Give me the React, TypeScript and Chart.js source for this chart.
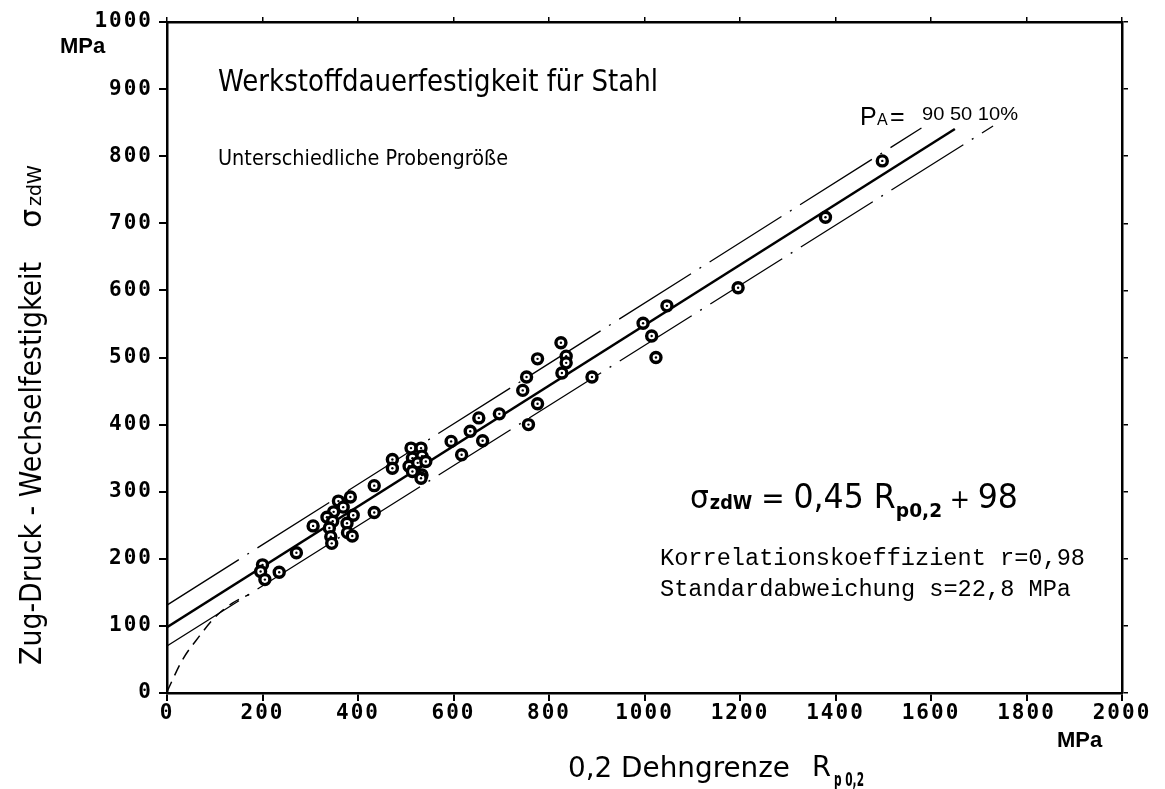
import React, { useEffect, useRef } from "react";
import { Chart, registerables } from "chart.js";

Chart.register(...registerables);

// Measured specimens: 0.2 % proof stress and push-pull fatigue strength (MPa)
const rp02 = [
  200, 196, 205, 235, 271, 306,
  359, 384, 369, 349, 335, 390, 347, 377, 340, 378, 388, 343, 345,
  434, 434, 472, 472,
  511, 532, 514, 534, 507, 525, 542, 514, 534, 532,
  595, 617, 635, 653, 661, 696,
  745, 753, 757, 776, 776,
  825, 836, 836, 827, 890,
  997, 1015, 1024, 1047,
  1196, 1379, 1498,
];
const sigmaZdW = [
  191, 181, 169, 180, 209, 249,
  286, 292, 277, 270, 262, 265, 256, 253, 246, 239, 234, 233, 223,
  309, 269, 348, 335,
  365, 365, 350, 353, 338, 343, 345, 330, 325, 320,
  375, 355, 390, 410, 376, 416,
  451, 471, 400, 498, 431,
  522, 502, 492, 477, 471,
  551, 532, 500, 577,
  604, 709, 793,
];

// Regression line sigma = 0.45 Rp0.2 + 98 (P_A = 50 %)
const medianX = [0, 1650];
const medianY = [98, 0.45 * 1650 + 98];
// Scatter band P_A = 90 %
const upperX = [0, 1580];
const upperY = [131, 842];
// Scatter band P_A = 10 %
const lowerX = [0, 1730];
const lowerY = [70, 845];
// Low-strength transition of the 10 % band towards the origin
const curveX = [0, 32, 67, 102, 137, 172];
const curveY = [2, 49, 84, 114, 134, 147];

const xTicksMax = 2000;
const xTickStep = 200;
const yTicksMax = 1000;
const yTickStep = 100;

const pts = (xs: number[], ys: number[]) => xs.map((x, i) => ({ x, y: ys[i] }));

type Part = { t: string; font: string; dy?: number; before?: number };

function drawRun(ctx: CanvasRenderingContext2D, x: number, y: number, parts: Part[], sx = 1) {
  let cx = x;
  for (const p of parts) {
    cx += p.before ?? 0;
    ctx.font = p.font;
    const w = ctx.measureText(p.t).width * sx;
    ctx.save();
    ctx.translate(cx, y + (p.dy ?? 0));
    ctx.scale(sx, 1);
    ctx.fillText(p.t, 0, 0);
    ctx.restore();
    cx += w;
  }
  return cx;
}

function drawFit(ctx: CanvasRenderingContext2D, t: string, x: number, y: number, font: string, width: number) {
  ctx.font = font;
  const sx = width / ctx.measureText(t).width;
  ctx.save();
  ctx.translate(x, y);
  ctx.scale(sx, 1);
  ctx.fillText(t, 0, 0);
  ctx.restore();
  return x + width;
}

const DIN = '"DejaVu Sans"';

const textPlugin = {
  id: "fatigueTexts",
  beforeDraw(chart: any) {
    chart.ctx.letterSpacing = "2px";
  },
  beforeDatasetsDraw(chart: any) {
    chart.ctx.letterSpacing = "0px";
  },
  afterDatasetsDraw(chart: any) {
    // centre dot of each specimen marker
    const ctx: CanvasRenderingContext2D = chart.ctx;
    const meta = chart.getDatasetMeta(0);
    ctx.save();
    ctx.fillStyle = "#000";
    meta.data.forEach((el: any) => {
      ctx.beginPath();
      ctx.arc(el.x, el.y, 1.2, 0, Math.PI * 2);
      ctx.fill();
    });
    ctx.restore();
  },
  afterDraw(chart: any) {
    const ctx: CanvasRenderingContext2D = chart.ctx;
    ctx.save();
    ctx.letterSpacing = "0px";
    ctx.fillStyle = "#000";
    ctx.textAlign = "left";
    ctx.textBaseline = "alphabetic";

    // unit labels
    ctx.font = 'bold 22px "Liberation Sans"';
    ctx.fillText("MPa", 60, 53);
    ctx.fillText("MPa", 1057, 747);

    // headings
    drawFit(ctx, "Werkstoffdauerfestigkeit für Stahl", 218, 91, `30px ${DIN}`, 440);
    drawFit(ctx, "Unterschiedliche Probengröße", 218, 165, `21px ${DIN}`, 290);

    // band labels
    ctx.font = '25px "Liberation Sans"';
    ctx.fillText("P", 860, 125);
    ctx.font = '16px "Liberation Sans"';
    ctx.fillText("A", 877, 125);
    ctx.font = '25px "Liberation Sans"';
    ctx.fillText("=", 890, 125);
    drawFit(ctx, "90 50 10%", 922, 120, '18px "Liberation Sans"', 96);

    // regression equation
    drawRun(
      ctx,
      690,
      508,
      [
        { t: "σ", font: `32px ${DIN}` },
        { t: "zdW", font: `bold 19px ${DIN}`, dy: 1, before: 1 },
        { t: " = ", font: `30px ${DIN}` },
        { t: "0,45", font: `34px ${DIN}` },
        { t: " R", font: `34px ${DIN}` },
        { t: "p0,2", font: `bold 20px ${DIN}`, dy: 9 },
        { t: " + ", font: `26px ${DIN}` },
        { t: "98", font: `34px ${DIN}` },
      ],
      0.93
    );

    drawFit(ctx, "Korrelationskoeffizient r=0,98", 660, 565, '23px "Liberation Mono"', 425);
    drawFit(ctx, "Standardabweichung s=22,8 MPa", 660, 596, '23px "Liberation Mono"', 411);

    // x-axis title
    drawFit(ctx, "0,2 Dehngrenze", 568, 777, `29px ${DIN}`, 222);
    drawFit(ctx, "R", 812, 776, `29px ${DIN}`, 19);
    drawFit(ctx, "p 0,2", 834, 786, `bold 19px ${DIN}`, 30);

    // y-axis title
    ctx.save();
    ctx.translate(41, 665);
    ctx.rotate(-Math.PI / 2);
    drawFit(ctx, "Zug-Druck - Wechselfestigkeit", 0, 0, `30px ${DIN}`, 403);
    drawRun(
      ctx,
      437,
      0,
      [
        { t: "σ", font: `30px ${DIN}` },
        { t: "zdW", font: `19px ${DIN}`, before: 3 },
      ],
      1
    );
    ctx.restore();

    ctx.restore();
  },
};

const tickFont = { family: '"DejaVu Sans Mono"', size: 21, weight: "bold" as const };
const plainTick = (v: any) => String(v);

export default function App() {
  const ref = useRef<HTMLCanvasElement | null>(null);

  useEffect(() => {
    if (!ref.current) return;
    const chart = new Chart(ref.current, {
      type: "scatter",
      data: {
        datasets: [
          {
            type: "scatter",
            data: pts(rp02, sigmaZdW),
            pointRadius: 5,
            pointBorderWidth: 3.4,
            borderColor: "#000",
            backgroundColor: "#fff",
            pointBackgroundColor: "#fff",
            pointBorderColor: "#000",
          },
          {
            type: "line",
            data: pts(medianX, medianY),
            borderColor: "#000",
            borderWidth: 2.6,
            pointRadius: 0,
            fill: false,
          },
          {
            type: "line",
            data: pts(upperX, upperY),
            borderColor: "#000",
            borderWidth: 1.3,
            borderDash: [85, 10, 2, 10],
            pointRadius: 0,
            fill: false,
          },
          {
            type: "line",
            data: pts(lowerX, lowerY),
            borderColor: "#000",
            borderWidth: 1.3,
            borderDash: [85, 10, 2, 10],
            pointRadius: 0,
            fill: false,
          },
          {
            type: "line",
            data: pts(curveX, curveY),
            borderColor: "#000",
            borderWidth: 1.5,
            borderDash: [11, 7],
            cubicInterpolationMode: "monotone",
            pointRadius: 0,
            fill: false,
          },
        ] as any,
      },
      options: {
        responsive: false,
        animation: false,
        layout: { padding: 0 },
        plugins: {
          legend: { display: false },
          tooltip: { enabled: false },
        },
        scales: {
          x: {
            type: "linear",
            position: "bottom",
            min: 0,
            max: xTicksMax,
            ticks: { stepSize: xTickStep, color: "#000", font: tickFont, padding: 0, maxRotation: 0, autoSkip: false, callback: plainTick },
            grid: { drawOnChartArea: false, tickLength: 8, color: "#000", lineWidth: 2 },
            border: { color: "#000", width: 2.5 },
            afterFit: (s: any) => {
              s.height = 96;
            },
          },
          x2: {
            type: "linear",
            position: "top",
            min: 0,
            max: xTicksMax,
            ticks: { display: false, stepSize: xTickStep },
            grid: { drawOnChartArea: false, tickLength: 5, color: "#000", lineWidth: 1.5 },
            border: { color: "#000", width: 2.5 },
            afterFit: (s: any) => {
              s.height = 22;
            },
          },
          y: {
            type: "linear",
            position: "left",
            min: 0,
            max: yTicksMax,
            ticks: { stepSize: yTickStep, color: "#000", font: tickFont, padding: 6, callback: plainTick },
            grid: { drawOnChartArea: false, tickLength: 8, color: "#000", lineWidth: 2 },
            border: { color: "#000", width: 2.5 },
            afterFit: (s: any) => {
              s.width = 167;
            },
          },
          y2: {
            type: "linear",
            position: "right",
            min: 0,
            max: yTicksMax,
            ticks: { display: false, stepSize: yTickStep },
            grid: { drawOnChartArea: false, tickLength: 6, color: "#000", lineWidth: 1.5 },
            border: { color: "#000", width: 2.5 },
            afterFit: (s: any) => {
              s.width = 43;
            },
          },
        } as any,
      },
      plugins: [textPlugin as any],
    });
    return () => chart.destroy();
  }, []);

  return (
    <div style={{ position: "absolute", left: 0, top: 0, width: 1165, height: 789, background: "#fff" }}>
      <canvas ref={ref} width={1165} height={789} />
    </div>
  );
}
